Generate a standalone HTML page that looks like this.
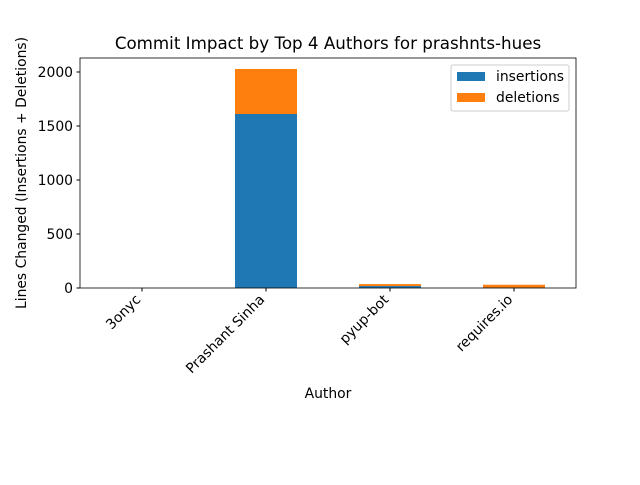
<!DOCTYPE html>
<html><head><meta charset="utf-8"><style>body{margin:0;background:#fff}svg{font-family:"DejaVu Sans","Liberation Sans",sans-serif}</style></head>
<body>
<svg width="640" height="480">
<g id="plot"></g>
</svg>
<script>
const categories = ["3onyc","Prashant Sinha","pyup-bot","requires.io"];
const insertions = [0,1611,18,4];
const deletions = [0,417,18,26];
const yTicks = [0,500,1000,1500,2000];
const L=80,R=576,T=58,B=288;
const ns="http://www.w3.org/2000/svg";
const g=document.getElementById('plot');
const x=i=>L+(i+0.5)*(R-L)/categories.length;
const y=v=>B-v*0.108;
const bw=(R-L)/categories.length*0.5;
function mk(t,a,txt){const e=document.createElementNS(ns,t);for(const k in a)e.setAttribute(k,a[k]);if(txt!==undefined)e.textContent=txt;g.appendChild(e);return e;}
categories.forEach((c,i)=>{
 let r=mk('rect',{x:x(i)-bw/2,y:y(insertions[i]),width:bw,height:B-y(insertions[i]),fill:'#1f77b4'});
 
 
 let r2=mk('rect',{x:x(i)-bw/2,y:y(insertions[i]+deletions[i]),width:bw,height:y(insertions[i])-y(insertions[i]+deletions[i]),fill:'#ff7f0e'});
 
 
 mk('line',{x1:x(i),x2:x(i),y1:B,y2:B+3.5,stroke:'#000'});
 let t=mk('text',{x:0,y:0,dy:'0.75em','font-size':13.9,'text-anchor':'end',transform:`translate(${x(i)-8},${B+5}) rotate(-45)`},c);
 
 
});
yTicks.forEach(v=>{
 mk('line',{x1:L-3.5,x2:L,y1:y(v),y2:y(v),stroke:'#000'});
 let t=mk('text',{x:L-7,y:y(v)+5,'font-size':13.9,'text-anchor':'end'},v);
 
 
});
mk('rect',{x:L,y:T,width:R-L,height:B-T,fill:'none',stroke:'#000','stroke-width':0.8});
let tt=mk('text',{x:328,y:49,'font-size':16.7,'text-anchor':'middle'},'Commit Impact by Top 4 Authors for prashnts-hues');

let xt=mk('text',{x:328,y:398,'font-size':13.9,'text-anchor':'middle'},'Author');

let yt=mk('text',{x:0,y:0,'font-size':13.9,'text-anchor':'middle',transform:'translate(26,173) rotate(-90)'},'Lines Changed (Insertions + Deletions)');

let lg=mk('rect',{x:451,y:65,width:118,height:46,fill:'#fff',stroke:'#ccc',rx:2});

mk('rect',{x:457,y:72,width:28,height:9,fill:'#1f77b4'});
mk('text',{x:496,y:81,'font-size':13.9},'insertions');
mk('rect',{x:457,y:93,width:28,height:9,fill:'#ff7f0e'});
mk('text',{x:496,y:102,'font-size':13.9},'deletions');
</script>
</body></html>
